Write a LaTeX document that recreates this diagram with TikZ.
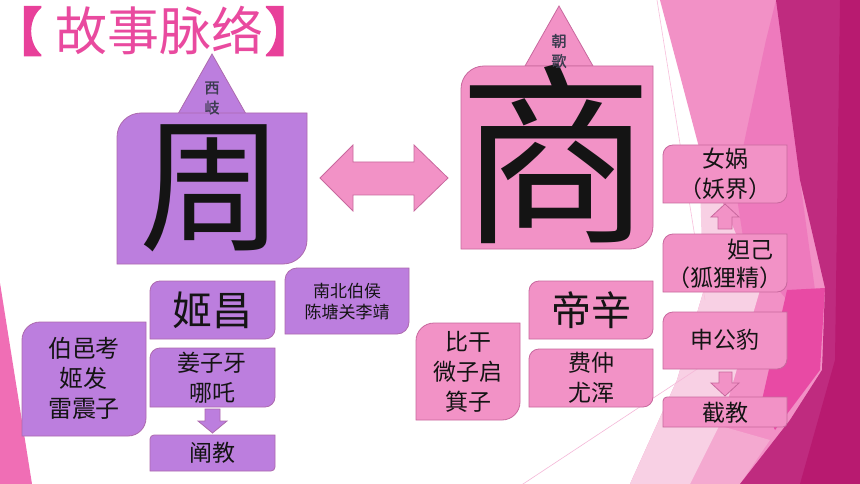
\documentclass[tikz,border=0pt]{standalone}
\usepackage{fontspec}
\setmainfont{Noto Sans CJK SC}
\newfontfamily\cjkb[FakeBold=1.5]{Noto Sans CJK SC}
\newfontfamily\cjkbb[FakeBold=4]{Noto Sans CJK SC}
\definecolor{pu}{HTML}{BC7EDE}
\definecolor{pub}{HTML}{AD6AAE}
\definecolor{pk}{HTML}{F292C6}
\definecolor{pkb}{HTML}{C8689E}
\definecolor{ttl}{HTML}{E94A9F}
\definecolor{ttb}{HTML}{E8409A}
\definecolor{bgA}{HTML}{F291C6}
\definecolor{bgB}{HTML}{F8D0E4}
\definecolor{bgC}{HTML}{EE7ABD}
\definecolor{bgD}{HTML}{E84AA4}
\definecolor{bgE}{HTML}{BF2B7F}
\definecolor{bgF}{HTML}{B81A70}
\definecolor{bgG}{HTML}{F4A9D0}
\definecolor{bgL}{HTML}{F06EB5}
\definecolor{lnA}{HTML}{F8C0DC}
\definecolor{lnB}{HTML}{F5B8D8}
\definecolor{lbl}{HTML}{3C3C50}
\newcommand\dgbox[6]{%
  \path[#6] (#1,#2+#5) .. controls (#1,#2+0.448*#5) and (#1+0.448*#5,#2) .. (#1+#5,#2)
    -- (#3,#2) -- (#3,#4-#5) .. controls (#3,#4-0.448*#5) and (#3-0.448*#5,#4) .. (#3-#5,#4)
    -- (#1,#4) -- cycle;}
\begin{document}
\begin{tikzpicture}[x=1pt,y=-1pt,
  pbox/.style={fill=pu,draw=pub,line width=0.8pt},
  kbox/.style={fill=pk,draw=pkb,line width=0.8pt},
  txt/.style={inner sep=0pt,text=black!92,align=center},
  tri/.style={inner sep=0pt,text=lbl,align=center,font=\cjkb\fontsize{15}{20}\selectfont},
  mid/.style={font=\fontsize{23}{30}\selectfont}]
\useasboundingbox (0,0) rectangle (860,484);
\fill[white] (0,0) rectangle (860,484);
% background decoration
\fill[bgA] (660,0) -- (860,0) -- (860,484) -- (630,484) -- (677,380) -- (703,293) -- (705,170) -- cycle;
\fill[bgG] (700,420) -- (770,440) -- (740,484) -- (660,484) -- cycle;
\fill[bgB] (700,180) -- (712,178) -- (760,290) -- (722,420) -- (690,484) -- (630,484) -- (677,380) -- (703,293) -- cycle;
\fill[bgC] (766,40) -- (776,0) -- (790,0) -- (800,180) -- (815,290) -- (787,300) -- (745,250) -- (735,185) -- cycle;
\fill[bgD] (787,290) -- (825,288) -- (820,370) -- (775,430) -- (762,400) -- cycle;
\fill[bgE] (776,0) -- (860,0) -- (860,484) -- (740,484) -- (790,420) -- (822,370) -- (825,288) -- (800,180) -- cycle;
\fill[bgF] (840,0) -- (860,0) -- (860,484) -- (800,484) -- (835,360) -- cycle;
\draw[lnA,line width=0.6pt] (657,0) -- (705,300);
\draw[lnB,line width=0.6pt] (520,486) -- (720,354);
\fill[bgL] (0,283) -- (32,484) -- (0,484) -- cycle;
% title
\node[inner sep=0pt,anchor=west,text=ttl,font=\fontsize{52}{52}\selectfont] (title) at (0,31)
  {\hspace{-10pt}{\cjkbb\color{ttb}【}\hspace{13pt}故事脉络\hspace{2pt}{\cjkbb\color{ttb}】}};
% triangles
\path[fill=pu,draw=pub,line width=0.8pt] (212,54) -- (178,114) -- (246,114) -- cycle;
\path[fill=pk,draw=pkb,line width=0.8pt] (559,6) -- (525,66) -- (593,66) -- cycle;
% boxes
\dgbox{117}{113}{307}{264}{24}{pbox}
\dgbox{461}{66}{653}{249}{23}{kbox}
\dgbox{150}{281}{275}{339}{10}{pbox}
\dgbox{150}{348}{275}{407}{10}{pbox}
\dgbox{150}{435}{275}{471}{4}{pbox}
\dgbox{22}{322}{146}{436}{18}{pbox}
\dgbox{285}{268}{409}{334}{12}{pbox}
\dgbox{416}{323}{520}{420}{18}{kbox}
\dgbox{529}{281}{653}{339}{10}{kbox}
\dgbox{529}{349}{653}{407}{10}{kbox}
\dgbox{663}{145}{787}{203}{10}{kbox}
\dgbox{663}{234}{787}{292}{10}{kbox}
\dgbox{663}{312}{787}{369}{10}{kbox}
\dgbox{663}{397}{787}{427}{4}{kbox}
% block arrows
\path[fill=pk,draw=pkb,line width=0.8pt] (320,178) -- (353,145) -- (353,162) -- (414,162) -- (414,145) -- (448,178) -- (414,211) -- (414,195) -- (353,195) -- (353,211) -- cycle;
\path[fill=pu,draw=pub,line width=0.8pt] (205,409) -- (220,409) -- (220,421) -- (227,421) -- (212.5,433) -- (198,421) -- (205,421) -- cycle;
\path[fill=pk,draw=pkb,line width=0.8pt] (725,204) -- (739,217) -- (732,217) -- (732,229) -- (718,229) -- (718,217) -- (711,217) -- cycle;
\path[fill=pk,draw=pkb,line width=0.8pt] (719,372) -- (732,372) -- (732,383) -- (739,383) -- (725,396) -- (711,383) -- (719,383) -- cycle;
% texts
\node[txt,font=\fontsize{145}{145}\selectfont] (zhou) at (212,188) {周};
\node[txt,font=\fontsize{195}{195}\selectfont] (shang) at (556,154) {商};
\node[tri] (xiqi) at (212,98) {西\\岐};
\node[tri] (chaoge) at (559,51) {朝\\歌};
\node[txt,font=\fontsize{40}{40}\selectfont] (jichang) at (212,310) {姬昌};
\node[txt,mid] (jiang) at (212,378) {姜子牙\\哪吒};
\node[txt,mid] (chan) at (212,453) {阐教};
\node[txt,font=\fontsize{24}{30}\selectfont] (boyi) at (84,378) {伯邑考\\姬发\\雷震子};
\node[txt,font=\fontsize{17}{21}\selectfont] (nanbei) at (347,302) {南北伯侯\\陈塘关李靖};
\node[txt,mid] (bigan) at (468,372) {比干\\微子启\\箕子};
\node[txt,font=\fontsize{40}{40}\selectfont] (dixin) at (591,310) {帝辛};
\node[txt,mid] (feizhong) at (591,378) {费仲\\尤浑};
\node[txt,mid] (nuwa) at (725,174) {女娲\\（妖界）};
\node[txt,mid] (daji1) at (750,250) {妲己};
\node[txt,mid] (daji2) at (725,278) {（狐狸精）};
\node[txt,mid] (shengong) at (725,340) {申公豹};
\node[txt,mid] (jie) at (725,413) {截教};
\end{tikzpicture}
\end{document}
